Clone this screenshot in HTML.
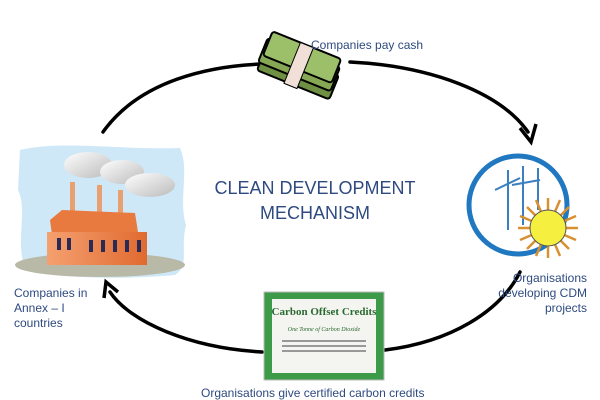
<!DOCTYPE html>
<html><head><meta charset="utf-8"><style>
html,body{margin:0;padding:0;background:#fff;width:600px;height:400px;overflow:hidden}
svg text{font-family:"Liberation Sans",sans-serif}
</style></head><body>
<svg width="600" height="400" viewBox="0 0 600 400" xmlns="http://www.w3.org/2000/svg">
<defs>
<linearGradient id="cl" x1="0" y1="0" x2="1" y2="1"><stop offset="0" stop-color="#fff"/><stop offset="1" stop-color="#bbb"/></linearGradient>
<linearGradient id="fa" x1="0" y1="0" x2="1" y2="0"><stop offset="0" stop-color="#f5a070"/><stop offset="1" stop-color="#e06a30"/></linearGradient>
</defs>
<g fill="none" stroke="#000" stroke-width="3.5" stroke-linecap="round">
<path d="M103,132 C 140,80 210,66 262,64"/>
<path d="M350,62 C 430,66 500,92 528,132"/>
<path d="M262,352 C 190,348 130,322 110,292"/>
<path d="M385,350 C 450,342 500,312 520,272"/>
</g>
<path d="M520,128 L531,142 L536,124" fill="none" stroke="#000" stroke-width="3.5"/>
<path d="M104,298 L106,282 L118,292" fill="none" stroke="#000" stroke-width="3.5"/>
<!-- factory -->
<path d="M20,150 C60,140 120,150 180,148 C190,170 178,200 186,225 C180,250 190,265 175,275 C120,280 60,278 25,270 C15,240 28,210 18,190 Z" fill="#cfe8f7"/>
<ellipse cx="100" cy="265" rx="85" ry="12" fill="#b9b9a8"/>
<ellipse cx="88" cy="165" rx="24" ry="13" fill="url(#cl)"/>
<ellipse cx="122" cy="172" rx="22" ry="12" fill="url(#cl)"/>
<ellipse cx="150" cy="185" rx="25" ry="12" fill="url(#cl)"/>
<rect x="70" y="182" width="5" height="30" fill="#e8a070"/>
<rect x="97" y="185" width="5" height="28" fill="#e8a070"/>
<rect x="118" y="190" width="5" height="24" fill="#e8a070"/>
<path d="M50,220 L62,210 L135,213 L138,232 L52,235 Z" fill="#e87a40"/>
<rect x="47" y="232" width="100" height="33" fill="url(#fa)"/>
<g fill="#2a2a55"><rect x="57" y="238" width="4" height="12"/><rect x="67" y="238" width="4" height="12"/><rect x="89" y="240" width="4" height="12"/><rect x="101" y="240" width="4" height="12"/><rect x="113" y="240" width="4" height="12"/><rect x="125" y="240" width="4" height="12"/><rect x="137" y="240" width="4" height="12"/></g>
<!-- money -->
<g transform="rotate(22 300 65)" stroke="#000" stroke-width="2">
<rect x="262" y="60" width="78" height="26" rx="3" fill="#6f8f42"/>
<rect x="260" y="52" width="78" height="26" rx="3" fill="#86a855"/>
<rect x="262" y="44" width="74" height="26" rx="3" fill="#9cbf6a"/>
<rect x="292" y="44" width="14" height="44" fill="#f1e0d8" stroke-width="1"/>
</g>
<!-- wind/sun circle -->
<circle cx="518" cy="205" r="49" fill="#fff" stroke="#1f78c0" stroke-width="5"/>
<g stroke="#3a7fc0" stroke-width="2">
<line x1="508" y1="170" x2="508" y2="230"/><line x1="523" y1="166" x2="523" y2="225"/><line x1="538" y1="168" x2="538" y2="210"/>
<line x1="495" y1="190" x2="520" y2="178"/><line x1="512" y1="185" x2="540" y2="180"/>
</g>
<g stroke="#d89030" stroke-width="2.5">
<line x1="548" y1="198" x2="548" y2="258"/><line x1="518" y1="228" x2="578" y2="228"/><line x1="527" y1="207" x2="569" y2="249"/><line x1="569" y1="207" x2="527" y2="249"/>
<line x1="536" y1="200" x2="560" y2="256"/><line x1="520" y1="240" x2="576" y2="216"/><line x1="560" y1="200" x2="536" y2="256"/><line x1="520" y1="216" x2="576" y2="240"/>
</g>
<circle cx="548" cy="228" r="18" fill="#f5f040" stroke="#555" stroke-width="1"/>
<!-- certificate -->
<rect x="264" y="292" width="120" height="88" fill="#3d9a48" stroke="#bbb"/>
<rect x="272" y="299" width="104" height="74" fill="#f4f4f0"/>
<text x="324" y="315" font-size="11" font-weight="bold" fill="#2a6a30" text-anchor="middle" style="font-family:'Liberation Serif',serif">Carbon Offset Credits</text>
<text x="324" y="331" font-size="6" font-style="italic" fill="#2a6a30" text-anchor="middle" style="font-family:'Liberation Serif',serif">One Tonne of Carbon Dioxide</text>
<g fill="#999"><rect x="282" y="340" width="84" height="2"/><rect x="282" y="345" width="84" height="2"/><rect x="282" y="350" width="84" height="2"/></g>
<!-- labels -->
<g fill="#2e4a80" font-size="12">
<text x="311" y="49">Companies pay cash</text>
<text x="14" y="297">Companies in</text>
<text x="14" y="312">Annex – I</text>
<text x="14" y="327">countries</text>
<text x="587" y="282" text-anchor="end">Organisations</text>
<text x="587" y="297" text-anchor="end">developing CDM</text>
<text x="587" y="312" text-anchor="end">projects</text>
<text x="201" y="397">Organisations give certified carbon credits</text>
</g>
<g fill="#2e4a80" font-size="18" text-anchor="middle">
<text x="315" y="194">CLEAN DEVELOPMENT</text>
<text x="315" y="219">MECHANISM</text>
</g>
</svg>
</body></html>
